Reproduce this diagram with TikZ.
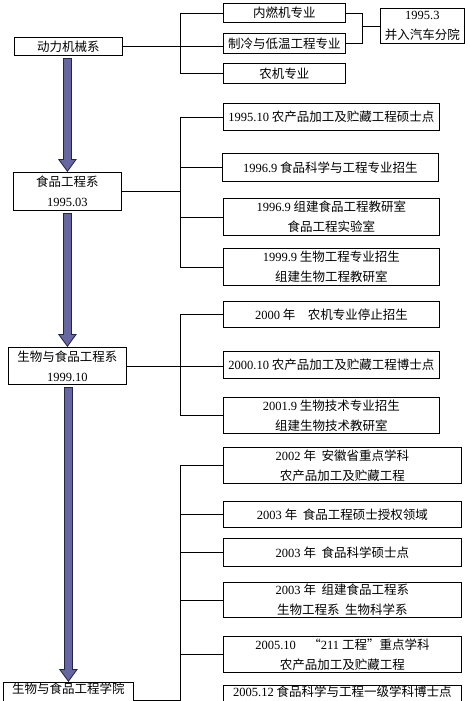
\documentclass[tikz,border=0pt]{standalone}
\usepackage{fontspec}
\setmainfont{Liberation Serif}
\newfontfamily\cjk{Noto Sans CJK SC}
\usepackage{tikz}
\usetikzlibrary{
    arrows.meta,
    positioning,
    calc
}
\definecolor{Dmid}{RGB}{102, 102, 160}
\definecolor{Ddark}{RGB}{36, 36, 72}
\newcommand{\yr}[1]{{\rmfamily #1}}
\tikzset{
    dbox/.style={
        rectangle, draw=black, line width=0.8pt, fill=white, anchor=north west,
        inner sep=0pt, align=center, font=\cjk\fontsize{12.5}{20}\selectfont
    },
    dline/.style={line width=0.7pt, black},
    darr/.style={line width=9pt, Ddark, shorten <=2pt,
        -{Triangle[length=13pt, width=19pt, line width=0pt]}},
    darrin/.style={line width=7pt, Dmid, shorten <=3pt, shorten >=1.7pt,
        -{Triangle[length=10.3pt, width=15.1pt, line width=0pt]}},
}

\begin{document}
\begin{tikzpicture}[x=1pt, y=-1pt]

    \useasboundingbox (0,0) rectangle (470,701);
    \coordinate (bus) at (180,0);
    \coordinate (rbus) at (362,0);

    \node [dbox, minimum width=108pt, minimum height=18pt]
        (m1) at (14,37) {动力机械系};
    \node [dbox, minimum width=108pt, minimum height=38pt]
        (m2) at (13,172) {食品工程系 \\ \yr{1995.03}};
    \node [dbox, minimum width=118pt, minimum height=37pt]
        (m3) at (8,347) {生物与食品工程系 \\ \yr{1999.10}};
    \node [dbox, minimum width=130pt, minimum height=34pt]
        (m4) at (3,682) {生物与食品工程学院 \\ \strut};

    \node [dbox, minimum width=122pt, minimum height=19pt]
        (a1) at (223,3) {内燃机专业};
    \node [dbox, minimum width=122pt, minimum height=20pt]
        (a2) at (223,33) {制冷与低温工程专业};
    \node [dbox, minimum width=122pt, minimum height=20pt]
        (a3) at (223,63) {农机专业};
    \node [dbox, minimum width=84pt, minimum height=35pt]
        (a4) at (380,8) {\yr{1995.3} \\ 并入汽车分院};

    \node [dbox, minimum width=216pt, minimum height=27pt]
        (b1) at (223,103) {\yr{1995.10} 农产品加工及贮藏工程硕士点};
    \node [dbox, minimum width=216pt, minimum height=28pt]
        (b2) at (222,153) {\yr{1996.9} 食品科学与工程专业招生};
    \node [dbox, minimum width=216pt, minimum height=37pt]
        (b3) at (223,198) {\yr{1996.9} 组建食品工程教研室 \\ 食品工程实验室};
    \node [dbox, minimum width=216pt, minimum height=37pt]
        (b4) at (223,248) {\yr{1999.9} 生物工程专业招生 \\ 组建生物工程教研室};

    \node [dbox, minimum width=216pt, minimum height=26pt]
        (c1) at (223,301) {\yr{2000} 年\quad 农机专业停止招生};
    \node [dbox, minimum width=216pt, minimum height=27pt]
        (c2) at (223,351) {\yr{2000.10} 农产品加工及贮藏工程博士点};
    \node [dbox, minimum width=216pt, minimum height=36pt]
        (c3) at (223,397) {\yr{2001.9} 生物技术专业招生 \\ 组建生物技术教研室};

    \node [dbox, minimum width=238pt, minimum height=36pt]
        (d1) at (223,447) {\yr{2002} 年\ \ 安徽省重点学科 \\ 农产品加工及贮藏工程};
    \node [dbox, minimum width=238pt, minimum height=26pt]
        (d2) at (223,501) {\yr{2003} 年\ \ 食品工程硕士授权领域};
    \node [dbox, minimum width=238pt, minimum height=28pt]
        (d3) at (223,538) {\yr{2003} 年\ \ 食品科学硕士点};
    \node [dbox, minimum width=238pt, minimum height=35pt]
        (d4) at (223,582) {\yr{2003} 年\ \ 组建食品工程系 \\ 生物工程系\ \ 生物科学系};
    \node [dbox, minimum width=238pt, minimum height=36pt]
        (d5) at (223,636) {\yr{2005.10}\quad “\yr{211} 工程”重点学科 \\ 农产品加工及贮藏工程};
    \node [dbox, minimum width=238pt, minimum height=36pt]
        (d6) at (223,685) {\yr{2005.12} 食品科学与工程一级学科博士点 \\ \strut};

    \draw [dline] (m1.east) -- (m1.east -| a2.west);
    \draw [dline] (a1.west) -| (bus |- a3.west) -- (a3.west);
    \draw [dline] (a1.east) -| (rbus |- a2.east) -- (a2.east);
    \draw [dline] (a4.west) -- (a4.west -| rbus);

    \draw [dline] (m2.east) -- (m2.east -| bus);
    \draw [dline] (b1.west) -| (bus |- b4.west) -- (b4.west);
    \draw [dline] (b2.west) -- (b2.west -| bus);
    \draw [dline] (b3.west) -- (b3.west -| bus);

    \draw [dline] (m3.east) -- (m3.east -| c2.west);
    \draw [dline] (c1.west) -| (bus |- c3.west) -- (c3.west);

    \draw [dline] (m4.east) -- (m4.east -| bus);
    \draw [dline] (d1.west) -| (bus |- d6.west) -- (d6.west);
    \draw [dline] (d2.west) -- (d2.west -| bus);
    \draw [dline] (d3.west) -- (d3.west -| bus);
    \draw [dline] (d4.west) -- (d4.west -| bus);
    \draw [dline] (d5.west) -- (d5.west -| bus);

    \draw [darr] (m2.north |- m1.south) -- (m2.north);
    \draw [darrin] (m2.north |- m1.south) -- (m2.north);
    \draw [darr] (m3.north |- m2.south) -- (m3.north);
    \draw [darrin] (m3.north |- m2.south) -- (m3.north);
    \draw [darr] (m4.north |- m3.south) -- (m4.north);
    \draw [darrin] (m4.north |- m3.south) -- (m4.north);

\end{tikzpicture}
\end{document}
